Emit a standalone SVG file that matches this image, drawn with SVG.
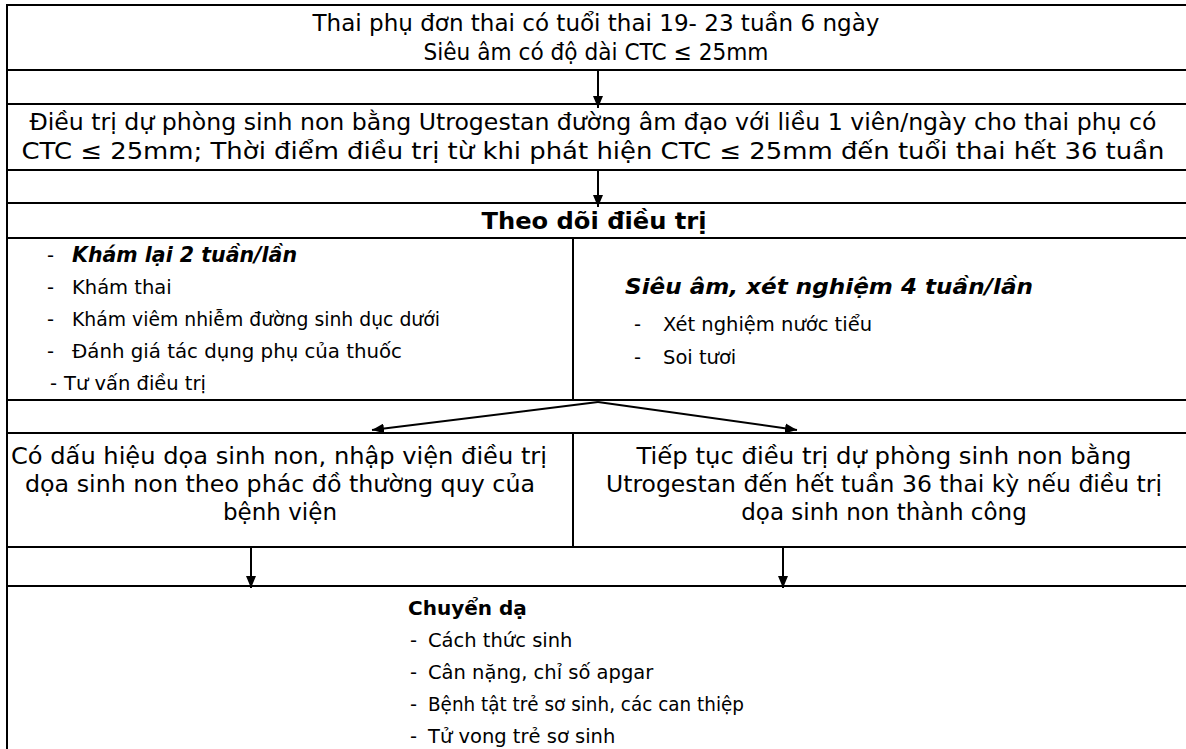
<svg xmlns="http://www.w3.org/2000/svg" width="1186" height="749" viewBox="0 0 1186 749">
<style>
text{font-family:"DejaVu Sans","Liberation Sans",sans-serif;font-size:19.5px;fill:#000}
.t{font-size:23px}
.c{text-anchor:middle}
.b{font-weight:bold}
.bi{font-weight:bold;font-style:italic}
.ln{stroke:#000;stroke-width:2;fill:none}
.ar{stroke:#000;stroke-width:2;fill:none}
</style>
<defs>
<marker id="ah" viewBox="0 0 12 10" refX="12" refY="5" markerWidth="12" markerHeight="10" markerUnits="userSpaceOnUse" orient="auto">
<path d="M0,0 L12,5 L0,10 z" fill="#000"/>
</marker>
</defs>
<rect width="1186" height="749" fill="#fff"/>
<g id="frame" class="ln">
<line x1="7" y1="4" x2="7" y2="749"/>
<line x1="6" y1="5" x2="1186" y2="5"/>
<line x1="6" y1="70" x2="1186" y2="70"/>
<line x1="6" y1="104" x2="1186" y2="104"/>
<line x1="6" y1="170" x2="1186" y2="170"/>
<line x1="6" y1="203" x2="1186" y2="203"/>
<line x1="6" y1="238" x2="1186" y2="238"/>
<line x1="573" y1="238" x2="573" y2="400"/>
<line x1="6" y1="400" x2="1186" y2="400"/>
<line x1="6" y1="433" x2="1186" y2="433"/>
<line x1="573" y1="433" x2="573" y2="547"/>
<line x1="6" y1="547" x2="1186" y2="547"/>
<line x1="6" y1="586" x2="1186" y2="586"/>
</g>
<g id="n1">
<text class="t c" x="596" y="31" textLength="567" lengthAdjust="spacingAndGlyphs">Thai phụ đơn thai có tuổi thai 19- 23 tuần 6 ngày</text>
<text class="t c" x="596" y="60" textLength="345" lengthAdjust="spacingAndGlyphs">Siêu âm có độ dài CTC ≤ 25mm</text>
</g>
<g id="n2">
<text class="t c" x="593" y="130" textLength="1127" lengthAdjust="spacingAndGlyphs">Điều trị dự phòng sinh non bằng Utrogestan đường âm đạo với liều 1 viên/ngày cho thai phụ có</text>
<text class="t c" x="593" y="159" textLength="1143" lengthAdjust="spacingAndGlyphs">CTC ≤ 25mm; Thời điểm điều trị từ khi phát hiện CTC ≤ 25mm đến tuổi thai hết 36 tuần</text>
</g>
<g id="n3">
<text class="t c b" x="594" y="229" textLength="225" lengthAdjust="spacingAndGlyphs">Theo dõi điều trị</text>
</g>
<g id="n4">
<text x="47" y="262">-</text><text class="bi" x="72" y="262" style="font-size:20.5px">Khám lại 2 tuần/lần</text>
<text x="47" y="294">-</text><text x="72" y="294">Khám thai</text>
<text x="47" y="326">-</text><text x="72" y="326" textLength="368" lengthAdjust="spacingAndGlyphs">Khám viêm nhiễm đường sinh dục dưới</text>
<text x="47" y="358">-</text><text x="72" y="358" textLength="330" lengthAdjust="spacingAndGlyphs">Đánh giá tác dụng phụ của thuốc</text>
<text x="50" y="390">-</text><text x="64" y="390">Tư vấn điều trị</text>
</g>
<g id="n5">
<text class="bi" x="625" y="294" style="font-size:22px" textLength="408" lengthAdjust="spacingAndGlyphs">Siêu âm, xét nghiệm 4 tuần/lần</text>
<text x="634" y="331">-</text><text x="663" y="331">Xét nghiệm nước tiểu</text>
<text x="634" y="364">-</text><text x="663" y="364">Soi tươi</text>
</g>
<g id="n6">
<text class="t c" x="279" y="464" textLength="536" lengthAdjust="spacingAndGlyphs">Có dấu hiệu dọa sinh non, nhập viện điều trị</text>
<text class="t c" x="280" y="492" textLength="510" lengthAdjust="spacingAndGlyphs">dọa sinh non theo phác đồ thường quy của</text>
<text class="t c" x="280" y="520">bệnh viện</text>
</g>
<g id="n7">
<text class="t c" x="884" y="464" textLength="495" lengthAdjust="spacingAndGlyphs">Tiếp tục điều trị dự phòng sinh non bằng</text>
<text class="t c" x="884" y="492" textLength="556" lengthAdjust="spacingAndGlyphs">Utrogestan  đến hết tuần 36 thai kỳ nếu điều trị</text>
<text class="t c" x="884" y="520">dọa sinh non thành công</text>
</g>
<g id="n8">
<text class="b" x="408" y="615" style="font-size:20px">Chuyển dạ</text>
<text x="410" y="647">-</text><text x="428" y="647">Cách thức sinh</text>
<text x="410" y="679">-</text><text x="428" y="679">Cân nặng, chỉ số apgar</text>
<text x="410" y="711">-</text><text x="428" y="711" textLength="316" lengthAdjust="spacingAndGlyphs">Bệnh tật trẻ sơ sinh, các can thiệp</text>
<text x="410" y="743">-</text><text x="428" y="743">Tử vong trẻ sơ sinh</text>
</g>
<g id="connectors" class="ar">
<line x1="598" y1="70" x2="598" y2="108" marker-end="url(#ah)"/>
<line x1="598" y1="170" x2="598" y2="207" marker-end="url(#ah)"/>
<line x1="598" y1="402" x2="372" y2="430" marker-end="url(#ah)"/>
<line x1="598" y1="402" x2="797" y2="430" marker-end="url(#ah)"/>
<line x1="251" y1="547" x2="251" y2="588" marker-end="url(#ah)"/>
<line x1="783" y1="547" x2="783" y2="588" marker-end="url(#ah)"/>
</g>
</svg>
